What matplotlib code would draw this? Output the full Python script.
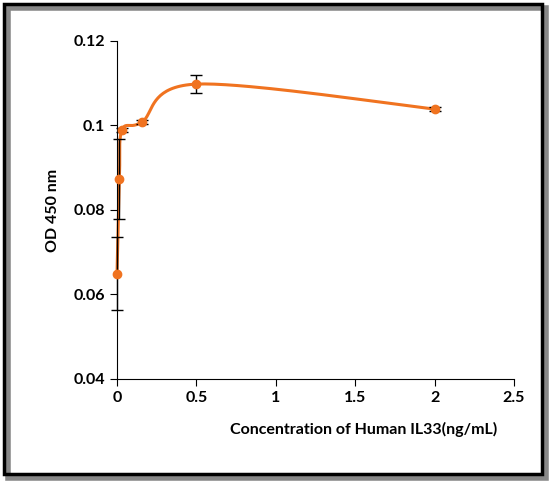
import numpy as np
import matplotlib
matplotlib.use("Agg")
import matplotlib.pyplot as plt
from matplotlib.patches import Rectangle

conc = [0, 0.0156, 0.03125, 0.156, 0.5, 2.0]
od = [0.0649, 0.0874, 0.0989, 0.1008, 0.1098, 0.1039]
err = [0.0086, 0.0095, 0.0005, 0.0005, 0.0022, 0.0005]

plt.rcParams['font.family'] = ['Lato', 'DejaVu Sans']
W, H = 557, 482
fig = plt.figure(figsize=(W/100, H/100), dpi=100)
fig.patches.append(Rectangle((8/W, 1-478/H), 538/W, 470/H, transform=fig.transFigure,
                             fill=False, lw=4, color='#888888', zorder=0))
fig.patches.append(Rectangle((4/W, 1-474/H), 538/W, 470/H, transform=fig.transFigure,
                             fill=False, lw=2.5, color='black', zorder=1))
ax = fig.add_axes([117/W, 1-379/H, (514-117)/W, (379-41)/H])

# parametric centripetal-ish Catmull-Rom smoothing in normalized space
xs = np.array(conc) / 2.5; ys = (np.array(od) - 0.04) / 0.08
P = np.column_stack([xs, ys])
P = np.vstack([P[0], P, P[-1]])
curve = []
for i in range(1, len(P) - 2):
    p0, p1, p2, p3 = P[i-1], P[i], P[i+1], P[i+2]
    t = np.linspace(0, 1, 40)[:, None]
    c = 0.5 * ((2*p1) + (-p0 + p2)*t + (2*p0 - 5*p1 + 4*p2 - p3)*t**2 + (-p0 + 3*p1 - 3*p2 + p3)*t**3)
    curve.append(c)
curve = np.vstack(curve)
ax.plot(curve[:, 0]*2.5, curve[:, 1]*0.08 + 0.04, color='#F07320', lw=2.2, clip_on=False)
eb = ax.errorbar(conc, od, yerr=err, fmt='o', color='#F07320', ms=6, ecolor='black',
                 elinewidth=1, capsize=4, zorder=3)
for a in eb.lines[0:1] + tuple(eb.lines[1]) + tuple(eb.lines[2]):
    a.set_clip_on(False)

ax.set_xlim(0, 2.5); ax.set_ylim(0.04, 0.12)
ax.set_xticks([0, 0.5, 1, 1.5, 2, 2.5]); ax.set_xticklabels(['0', '0.5', '1', '1.5', '2', '2.5'])
ax.set_yticks([0.04, 0.06, 0.08, 0.1, 0.12]); ax.set_yticklabels(['0.04', '0.06', '0.08', '0.1', '0.12'])
for s in ['top', 'right']:
    ax.spines[s].set_visible(False)
ax.tick_params(labelsize=11.5, length=5, direction='out')
for lab in ax.get_xticklabels() + ax.get_yticklabels():
    lab.set_fontweight('bold')
ax.set_xlabel('Concentration of Human IL33(ng/mL)', fontsize=11.5, fontweight='bold', labelpad=12, x=0.62)
ax.set_ylabel('OD 450 nm', fontsize=11.5, fontweight='bold', labelpad=10)
fig.savefig('out.png', dpi=100)
